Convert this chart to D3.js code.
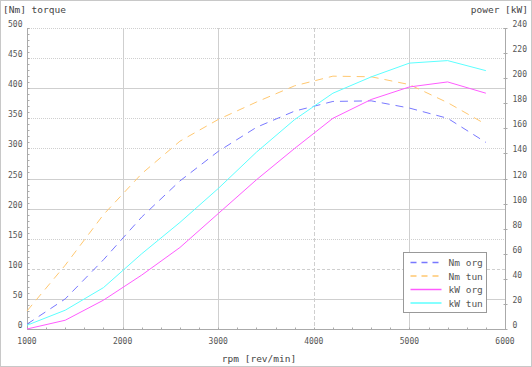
<!DOCTYPE html>
<html>
<head>
<meta charset="utf-8">
<script src="https://cdn.jsdelivr.net/npm/d3@7"></script>
<style>
  body { margin: 0; background: #fff; }
  text { font-family: "DejaVu Sans Mono", monospace; }
</style>
</head>
<body>
<div id="chart"></div>
<script>
// rpm sample points
var rpm = [1000, 1400, 1800, 2200, 2600, 3000, 3400, 3800, 4200, 4600, 5000, 5400, 5800];
// torque [Nm]
var nmOrg = [8, 50, 115, 186, 246, 295, 335, 362, 378, 379, 367, 350, 310];
var nmTun = [30, 106, 190, 258, 312, 348, 377, 404, 420, 419, 406, 376, 340];
// power [kW]
var kwOrg = [0, 7, 23, 43, 65, 92, 119, 144, 168, 183, 193, 197, 188];
var kwTun = [3, 15, 33, 60, 85, 112, 141, 167, 188, 201, 212, 214, 206];

var seriesNames = ["Nm org", "Nm tun", "kW org", "kW tun"];
var leftTicks = [0, 50, 100, 150, 200, 250, 300, 350, 400, 450, 500];
var rightTicks = [0, 20, 40, 60, 80, 100, 120, 140, 160, 180, 200, 220, 240];
var xTicks = [1000, 2000, 3000, 4000, 5000, 6000];

var width = 532, height = 367;
var margin = {left: 27, right: 27, top: 28, bottom: 38};

var svg = d3.select("#chart").append("svg")
    .attr("width", width).attr("height", height);

// outer frame
svg.append("rect")
    .attr("x", 0.5).attr("y", 0.5)
    .attr("width", width - 1).attr("height", height - 1)
    .attr("fill", "none").attr("stroke", "#c8c8c8");

var x = d3.scaleLinear().domain([1000, 6000]).range([margin.left, width - margin.right]);
var yL = d3.scaleLinear().domain([0, 500]).range([height - margin.bottom, margin.top]);
var yR = d3.scaleLinear().domain([0, 240]).range([height - margin.bottom, margin.top]);

// grid
var gridStyle = {0: "1,1", 50: null, 100: "3,2", 150: "1,1", 200: null, 250: null,
                 300: "1,1", 350: "1,1", 400: null, 450: "1,1", 500: "1,1"};
svg.append("g").selectAll("line")
    .data(leftTicks)
  .enter().append("line")
    .attr("x1", margin.left).attr("x2", width - margin.right)
    .attr("y1", function(d) { return Math.round(yL(d)) + 0.5; })
    .attr("y2", function(d) { return Math.round(yL(d)) + 0.5; })
    .attr("stroke", "#cfcfcf")
    .attr("stroke-dasharray", function(d) { return gridStyle[d]; });

svg.append("g").selectAll("line")
    .data(xTicks.slice(1, -1))
  .enter().append("line")
    .attr("x1", function(d) { return Math.round(x(d)) + 0.5; })
    .attr("x2", function(d) { return Math.round(x(d)) + 0.5; })
    .attr("y1", margin.top).attr("y2", height - margin.bottom)
    .attr("stroke", "#cfcfcf")
    .attr("stroke-dasharray", function(d) { return d == 4000 ? "4,2" : null; });

// axes
var axisColor = "#aaa";
var left = svg.append("g").attr("transform", "translate(" + (margin.left + 0.5) + ",0)");
left.append("line").attr("y1", margin.top).attr("y2", height - margin.bottom).attr("stroke", axisColor);
left.selectAll(".minor").data(d3.range(0, 501, 10))
  .enter().append("line")
    .attr("x1", 0).attr("x2", 2)
    .attr("y1", function(d) { return Math.round(yL(d)) + 0.5; })
    .attr("y2", function(d) { return Math.round(yL(d)) + 0.5; })
    .attr("stroke", axisColor);
left.selectAll("text").data(leftTicks)
  .enter().append("text")
    .attr("x", -5).attr("y", function(d) { return yL(d) - 1; })
    .attr("text-anchor", "end")
    .attr("font-size", "8px").attr("fill", "#555")
    .text(function(d) { return d; });

var right = svg.append("g").attr("transform", "translate(" + (width - margin.right + 0.5) + ",0)");
right.append("line").attr("y1", margin.top).attr("y2", height - margin.bottom).attr("stroke", axisColor);
right.selectAll(".tick").data(rightTicks)
  .enter().append("line")
    .attr("x1", -2).attr("x2", 2)
    .attr("y1", function(d) { return Math.round(yR(d)) + 0.5; })
    .attr("y2", function(d) { return Math.round(yR(d)) + 0.5; })
    .attr("stroke", axisColor);
right.selectAll("text").data(rightTicks)
  .enter().append("text")
    .attr("x", 7).attr("y", function(d) { return yR(d) - 1; })
    .attr("font-size", "8px").attr("fill", "#555")
    .text(function(d) { return d; });

var bottom = svg.append("g").attr("transform", "translate(0," + (Math.round(yL(0)) + 0.5) + ")");
bottom.append("line").attr("x1", margin.left).attr("x2", width - margin.right).attr("stroke", axisColor);
bottom.selectAll(".minor").data(d3.range(1000, 6001, 200))
  .enter().append("line")
    .attr("x1", function(d) { return Math.round(x(d)) + 0.5; })
    .attr("x2", function(d) { return Math.round(x(d)) + 0.5; })
    .attr("y1", 0).attr("y2", -2)
    .attr("stroke", axisColor);
bottom.selectAll("text").data(xTicks)
  .enter().append("text")
    .attr("x", function(d) { return x(d); }).attr("y", 14)
    .attr("text-anchor", "middle")
    .attr("font-size", "8px").attr("fill", "#555")
    .text(function(d) { return d; });

// titles
svg.append("text").attr("x", 3).attr("y", 13)
    .attr("font-size", "9.5px").attr("fill", "#444").text("[Nm] torque");
svg.append("text").attr("x", width - 4).attr("y", 13).attr("text-anchor", "end")
    .attr("font-size", "9.5px").attr("fill", "#444").text("power [kW]");
svg.append("text").attr("x", 259).attr("y", 362).attr("text-anchor", "middle")
    .attr("font-size", "9.5px").attr("fill", "#444").text("rpm [rev/min]");

// series
var series = [
  {name: seriesNames[0], values: nmOrg, scale: yL, color: "#7878ff", dash: "8,6"},
  {name: seriesNames[1], values: nmTun, scale: yL, color: "#ffc870", dash: "8,6"},
  {name: seriesNames[2], values: kwOrg, scale: yR, color: "#ff5cff", dash: null},
  {name: seriesNames[3], values: kwTun, scale: yR, color: "#5cffff", dash: null}
];

series.forEach(function(s) {
  var line = d3.line()
      .x(function(d, i) { return x(rpm[i]); })
      .y(function(d) { return s.scale(d); });
  svg.append("path")
      .datum(s.values)
      .attr("d", line)
      .attr("fill", "none")
      .attr("stroke", s.color)
      .attr("stroke-width", 1)
      .attr("stroke-dasharray", s.dash);
});

// legend
var legend = svg.append("g").attr("transform", "translate(403.5,252.5)");
legend.append("rect").attr("width", 83).attr("height", 60)
    .attr("fill", "#fff").attr("stroke", "#999");
var item = legend.selectAll(".item").data(series)
  .enter().append("g")
    .attr("transform", function(d, i) { return "translate(0," + (10 + i * 13.5) + ")"; });
item.append("line")
    .attr("x1", 7).attr("x2", 38)
    .attr("stroke", function(d) { return d.color; })
    .attr("stroke-width", 1.5)
    .attr("stroke-dasharray", function(d) { return d.dash ? "6,5" : null; });
item.append("text")
    .attr("x", 45).attr("y", 3.5)
    .attr("font-size", "9.5px").attr("fill", "#555")
    .text(function(d) { return d.name; });
</script>
</body>
</html>
